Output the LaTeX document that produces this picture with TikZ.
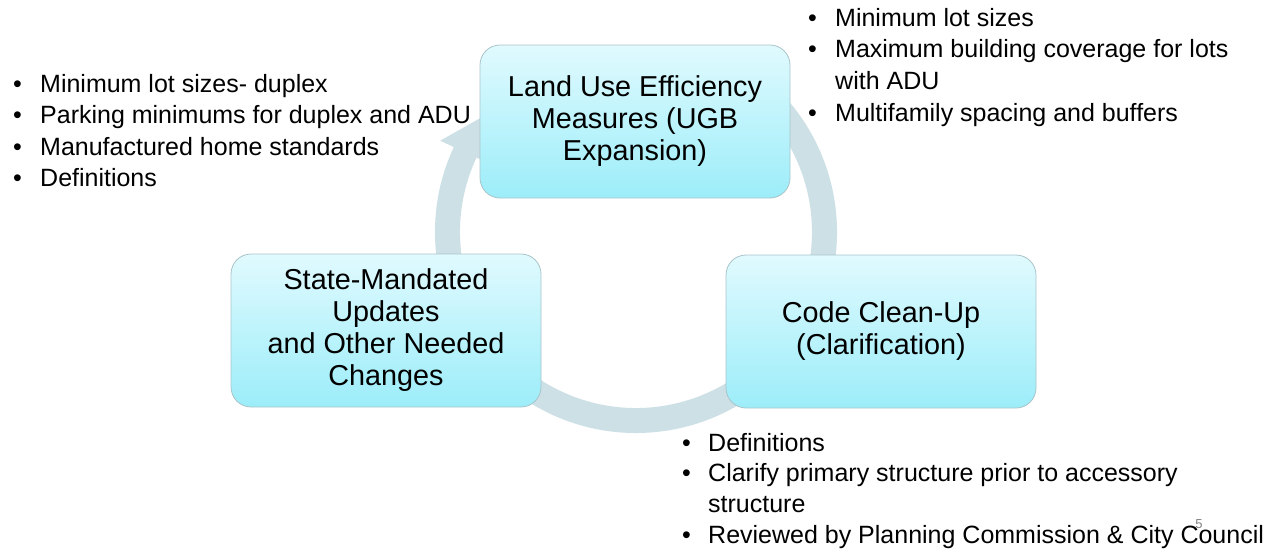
\documentclass[tikz,border=0pt]{standalone}
\usepackage{fontspec}
\setmainfont{Liberation Sans}
\begin{document}
\begin{tikzpicture}[x=1pt,y=1pt,
  stagebox/.style={draw=boxline, line width=0.8pt, rounded corners=20pt,
    top color=boxtop, bottom color=boxbottom, minimum width=310pt,
    minimum height=153pt, inner sep=0pt, align=center,
    font=\fontsize{28.8}{32}\selectfont},
  bul/.style={anchor=base west, inner sep=0pt, font=\fontsize{25}{30}\selectfont},
  pagenum/.style={inner sep=0pt, text=gray, font=\fontsize{13}{14}\selectfont}]
\definecolor{ringcol}{RGB}{204,224,230}
\definecolor{boxtop}{RGB}{224,250,254}
\definecolor{boxbottom}{RGB}{156,237,249}
\definecolor{boxline}{RGB}{170,196,202}
\useasboundingbox[fill=white] (0,0) rectangle (1267,-554);

% circular arrow running clockwise behind the three stages
\coordinate (ringc) at (636,-232);
\begin{scope}[shift={(ringc)}]
  \fill[ringcol] (55:201pt) arc[start angle=55, end angle=-205, radius=201pt]
    -- (-205:216pt) -- (-219:189pt) -- (-205:161pt)
    -- (-205:176pt) arc[start angle=-205, end angle=55, radius=176pt] -- cycle;
\end{scope}

% stages
\node[stagebox] (luem) at (635,-121.5) {Land Use Efficiency\\Measures (UGB\\Expansion)};
\node[stagebox] (smu) at (386,-330.5) {State-Mandated\\Updates\\and Other Needed\\Changes};
\node[stagebox] (ccu) at (881,-331.5) {Code Clean-Up\\(Clarification)};

% notes beside the first stage
\node[bul] (tr1b) at (808,-26) {•};
\node[bul] (tr1) at (835,-26) {Minimum lot sizes};
\node[bul] (tr2b) at (808,-57.5) {•};
\node[bul] (tr2) at (835,-57.5) {Maximum building coverage for lots};
\node[bul] (tr3) at (835,-89) {with ADU};
\node[bul] (tr4b) at (808,-121) {•};
\node[bul] (tr4) at (835,-121) {Multifamily spacing and buffers};

% notes for the state-mandated stage
\node[bul] (l1b) at (13,-92) {•};
\node[bul] (l1) at (40,-92) {Minimum lot sizes- duplex};
\node[bul] (l2b) at (13,-123.5) {•};
\node[bul] (l2) at (40,-123.5) {Parking minimums for duplex and ADU};
\node[bul] (l3b) at (13,-155) {•};
\node[bul] (l3) at (40,-155) {Manufactured home standards};
\node[bul] (l4b) at (13,-186) {•};
\node[bul] (l4) at (40,-186) {Definitions};

% notes for the clean-up stage
\node[bul] (b1b) at (682,-451) {•};
\node[bul] (b1) at (708,-451) {Definitions};
\node[bul] (b2b) at (682,-481.5) {•};
\node[bul] (b2) at (708,-481.5) {Clarify primary structure prior to accessory};
\node[bul] (b3) at (708,-512) {structure};
\node[bul] (b4b) at (682,-543) {•};
\node[bul] (b4) at (708,-543) {Reviewed by Planning Commission \& City Council};

% slide number
\node[pagenum] (pg) at (1199,-524) {5};
\end{tikzpicture}
\end{document}
